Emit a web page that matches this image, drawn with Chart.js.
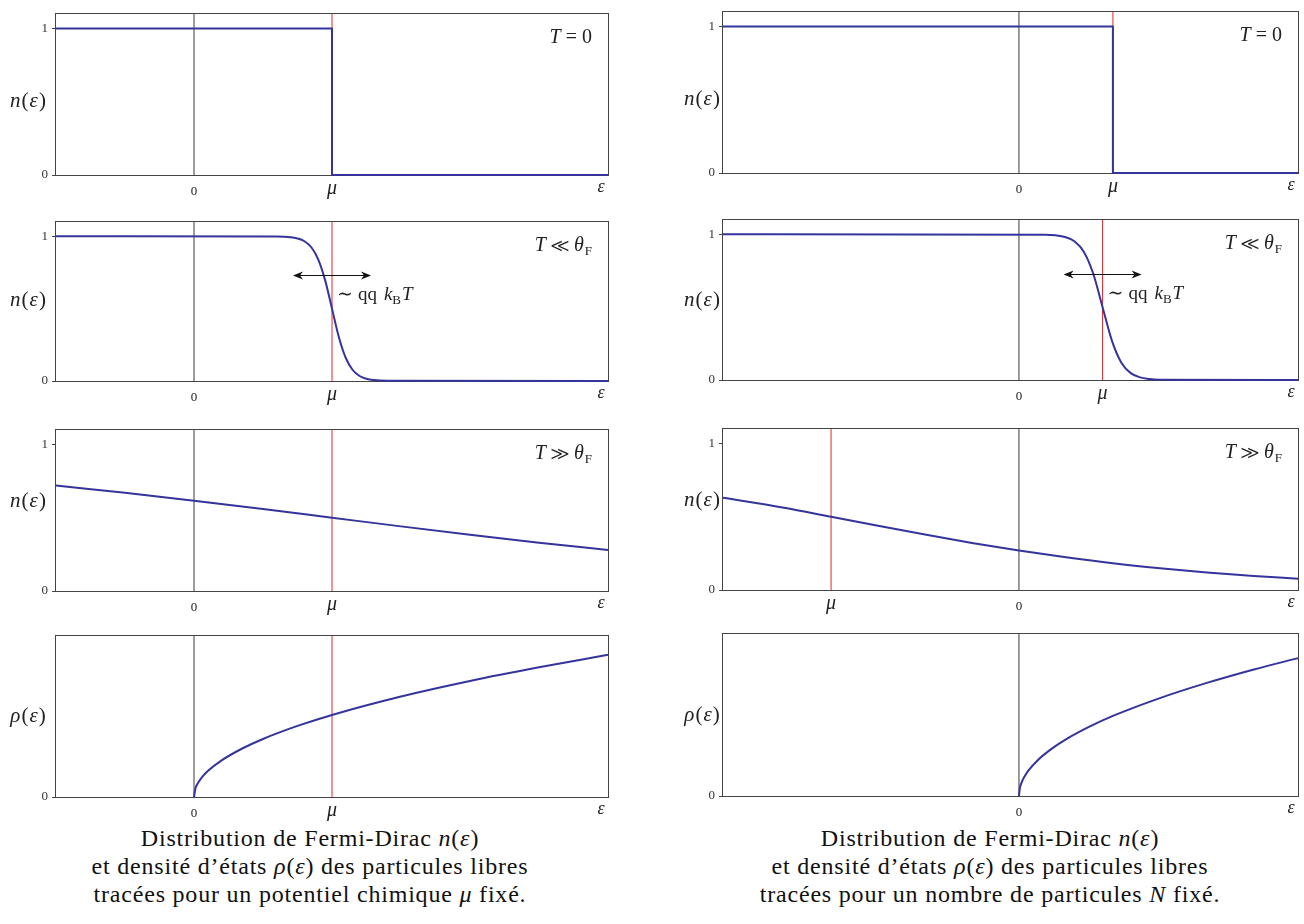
<!DOCTYPE html>
<html>
<head>
<meta charset="utf-8">
<script src="https://cdn.jsdelivr.net/npm/chart.js@4.4.1/dist/chart.umd.min.js"></script>
<style>
  body { margin: 0; background: #fff; width: 1304px; height: 924px; position: relative; overflow: hidden;
         font-family: "Liberation Serif", "DejaVu Serif", "Noto Serif", "Times New Roman", Tinos, "Nimbus Roman", FreeSerif, serif; }
  canvas { position: absolute; }
  .cap { position: absolute; width: 600px; text-align: center; font-size: 24px; line-height: 28px;
         letter-spacing: 0.8px; color: #111; }
</style>
</head>
<body>
<div class="cap" style="left:10px; top:824px;">Distribution de Fermi-Dirac <i>n</i>(<i>ε</i>)<br>et densité d’états <i>ρ</i>(<i>ε</i>) des particules libres<br>tracées pour un potentiel chimique <i>μ</i> fixé.</div>
<div class="cap" style="left:690px; top:824px;">Distribution de Fermi-Dirac <i>n</i>(<i>ε</i>)<br>et densité d’états <i>ρ</i>(<i>ε</i>) des particules libres<br>tracées pour un nombre de particules <i>N</i> fixé.</div>
<script>
// energy axis, in units of the T = 0 chemical potential
const xRangeMu = [-1, 3];        // left column (mu fixed)
const xRangeN = [-3.15, 2.97];   // right column (N fixed)
const muFixed = 1;
const muN = [1, 0.89, -2];       // right column: T=0, T<<θF, T>>θF
const yTicksN = [0, 1];
const yTicksRho = [0];

// T = 0 : step
const stepEpsMu = [-1, 1, 1, 3];
const stepEpsN = [-3.15, 1, 1, 2.97];
const stepN = [1, 1, 0, 0];

// T << θF
const coldEpsMu = [-1, 0.6, 0.7, 0.75, 0.8, 0.85, 0.9, 0.95, 1, 1.05, 1.1, 1.15, 1.2, 1.25, 1.3, 1.4, 3];
const coldNMu = [1, 0.9987, 0.9933, 0.9847, 0.9656, 0.9241, 0.8411, 0.6971, 0.5, 0.3029, 0.1589, 0.0759, 0.0344, 0.0153, 0.0067, 0.0013, 0];
const coldEpsN = [-3.15, 0.29, 0.39, 0.49, 0.59, 0.69, 0.79, 0.89, 0.99, 1.09, 1.19, 1.29, 1.39, 1.49, 2.97];
const coldNN = [1, 0.9975, 0.9933, 0.982, 0.9526, 0.8808, 0.7311, 0.5, 0.2689, 0.1192, 0.0474, 0.018, 0.0067, 0.0025, 0];

// T >> θF
const hotEpsMu = [-1, -0.5, 0, 0.5, 1, 1.5, 2, 2.5, 3];
const hotNMu = [0.72, 0.67, 0.616, 0.559, 0.5, 0.441, 0.384, 0.33, 0.28];
const hotEpsN = [-3.15, -2.5, -2, -1.5, -1, -0.5, 0, 0.5, 1, 1.5, 2, 2.5, 2.97];
const hotNN = [0.63, 0.562, 0.5, 0.438, 0.378, 0.321, 0.269, 0.223, 0.182, 0.148, 0.119, 0.095, 0.077];

// density of states
const dosEpsMu = [0, 0.01, 0.03, 0.06, 0.1, 0.2, 0.35, 0.5, 0.75, 1, 1.5, 2, 2.5, 3];
const dosMu = [0, 0.056, 0.097, 0.137, 0.177, 0.25, 0.331, 0.396, 0.485, 0.56, 0.686, 0.792, 0.885, 0.97];
const dosEpsN = [0, 0.01, 0.03, 0.06, 0.1, 0.2, 0.35, 0.5, 0.75, 1, 1.5, 2, 2.5, 2.97];
const dosN = [0, 0.054, 0.094, 0.133, 0.172, 0.243, 0.321, 0.384, 0.47, 0.543, 0.664, 0.767, 0.858, 0.935];

const SERIF = '"Liberation Serif", "DejaVu Serif", "Noto Serif", "Times New Roman", Tinos, "Nimbus Roman", FreeSerif, serif';
const BLUE = '#34349c';
const RED = '#e2282c';
const AXIS = '#444';

const tags = {
  zero: [['T', 'i', 20, 0, 5], ['=', 'n', 20, 0, 5], ['0', 'n', 20]],
  cold: [['T', 'i', 20, 0, 5], ['≪', 'n', 20, 0, 5], ['θ', 'i', 20, 0, 1], ['F', 'n', 13, 4]],
  hot: [['T', 'i', 20, 0, 5], ['≫', 'n', 20, 0, 5], ['θ', 'i', 20, 0, 1], ['F', 'n', 13, 4]]
};

const panels = [
  { box: [56, 8, 608, 175], xr: xRangeMu, eps: stepEpsMu, n: stepN, mu: muFixed, smooth: false, lab: 'n', labY: 0.54, labDx: 28, yTicks: yTicksN, tag: 'zero' },
  { box: [56, 216, 608, 381], xr: xRangeMu, eps: coldEpsMu, n: coldNMu, mu: muFixed, smooth: true, lab: 'n', labY: 0.49, labDx: 28, yTicks: yTicksN, tag: 'cold' },
  { box: [56, 424, 608, 591], xr: xRangeMu, eps: hotEpsMu, n: hotNMu, mu: muFixed, smooth: true, lab: 'n', labY: 0.44, labDx: 28, yTicks: yTicksN, tag: 'hot' },
  { box: [56, 630, 608, 797], xr: xRangeMu, eps: dosEpsMu, n: dosMu, mu: muFixed, smooth: true, lab: 'ρ', labY: 0.5, labDx: 28, yTicks: yTicksRho, tag: null },
  { box: [723, 6, 1298, 173], xr: xRangeN, eps: stepEpsN, n: stepN, mu: muN[0], smooth: false, lab: 'n', labY: 0.54, labDx: 21, yTicks: yTicksN, tag: 'zero' },
  { box: [723, 214, 1298, 380], xr: xRangeN, eps: coldEpsN, n: coldNN, mu: muN[1], smooth: true, lab: 'n', labY: 0.5, labDx: 21, yTicks: yTicksN, tag: 'cold' },
  { box: [723, 423, 1298, 590], xr: xRangeN, eps: hotEpsN, n: hotNN, mu: muN[2], smooth: true, lab: 'n', labY: 0.44, labDx: 21, yTicks: yTicksN, tag: 'hot' },
  { box: [723, 628, 1298, 796], xr: xRangeN, eps: dosEpsN, n: dosN, mu: null, smooth: true, lab: 'ρ', labY: 0.5, labDx: 21, yTicks: yTicksRho, tag: null }
];

const xy = (xs, ys) => xs.map((x, i) => ({ x: x, y: ys[i] }));
const fontOf = p => (p[1] === 'i' ? 'italic ' : '') + p[2] + 'px ' + SERIF;

function drawRuns(ctx, parts, x, y, align) {
  let w = 0;
  parts.forEach(p => { ctx.font = fontOf(p); w += ctx.measureText(p[0]).width + (p[4] || 0); });
  let cx = align === 'right' ? x - w : (align === 'center' ? x - w / 2 : x);
  parts.forEach(p => {
    ctx.font = fontOf(p);
    ctx.fillText(p[0], cx, y + (p[3] || 0));
    cx += ctx.measureText(p[0]).width + (p[4] || 0);
  });
}

function arrowHead(ctx, x, y, dir) {
  ctx.beginPath();
  ctx.moveTo(x, y);
  ctx.lineTo(x - dir * 10, y - 4);
  ctx.lineTo(x - dir * 7, y);
  ctx.lineTo(x - dir * 10, y + 4);
  ctx.closePath();
  ctx.fill();
}

const PAD = { left: 0, top: 6, right: 14, bottom: 28 };
const YW = 56;

panels.forEach(p => {
  const [x0, y0, x1, y1] = p.box;
  const cv = document.createElement('canvas');
  const w = (x1 - x0) + YW + PAD.right;
  const h = (y1 - y0) + PAD.top + PAD.bottom;
  cv.width = w; cv.height = h;
  cv.style.left = (x0 - YW) + 'px';
  cv.style.top = (y0 - PAD.top) + 'px';
  cv.style.width = w + 'px';
  cv.style.height = h + 'px';
  document.body.appendChild(cv);

  const datasets = [{
    data: xy(p.eps, p.n), borderColor: BLUE, borderWidth: 2, pointRadius: 0,
    cubicInterpolationMode: p.smooth ? 'monotone' : 'default', tension: 0, clip: 4
  }];
  if (p.mu !== null) {
    datasets.push({ data: [{ x: p.mu, y: 0 }, { x: p.mu, y: 1.1 }], borderColor: RED, borderWidth: 1, pointRadius: 0 });
  }
  datasets.push({ data: [{ x: 0, y: 0 }, { x: 0, y: 1.1 }], borderColor: '#3a3a3a', borderWidth: 1, pointRadius: 0 });

  const decor = {
    id: 'decor',
    beforeDatasetsDraw(chart) {
      const a = chart.chartArea, ctx = chart.ctx;
      ctx.save();
      ctx.strokeStyle = AXIS;
      ctx.lineWidth = 1;
      ctx.strokeRect(Math.round(a.left) - 0.5, Math.round(a.top) - 0.5, Math.round(a.right - a.left) + 1, Math.round(a.bottom - a.top) + 1);
      ctx.restore();
    },
    afterDraw(chart) {
      const a = chart.chartArea, ctx = chart.ctx, xs = chart.scales.x, ys = chart.scales.y;
      ctx.save();
      ctx.fillStyle = '#222';
      ctx.textBaseline = 'alphabetic';
      // x labels
      drawRuns(ctx, [['0', 'n', 13]], xs.getPixelForValue(0), a.bottom + 20, 'center');
      if (p.mu !== null) drawRuns(ctx, [['μ', 'i', 20]], xs.getPixelForValue(p.mu), a.bottom + 19, 'center');
      drawRuns(ctx, [['ε', 'i', 18]], a.right - 7, a.bottom + 17, 'center');
      // y label
      const ly = a.top + p.labY * (a.bottom - a.top) + 6;
      drawRuns(ctx, [[p.lab, 'i', 21, 0, 1], ['(', 'n', 21, 0, 1], ['ε', 'i', 21, 0, 1], [')', 'n', 21]], a.left - p.labDx, ly, 'center');
      // regime tag
      if (p.tag) drawRuns(ctx, tags[p.tag], a.right - 16, a.top + 29, 'right');
      // thermal width arrow
      if (p.tag === 'cold') {
        const cx = xs.getPixelForValue(p.mu), cy = Math.round(ys.getPixelForValue(0.73)) + 0.5;
        ctx.strokeStyle = '#111';
        ctx.fillStyle = '#111';
        ctx.lineWidth = 1;
        ctx.beginPath();
        ctx.moveTo(cx - 36, cy);
        ctx.lineTo(cx + 36, cy);
        ctx.stroke();
        arrowHead(ctx, cx - 39, cy, -1);
        arrowHead(ctx, cx + 39, cy, 1);
        ctx.fillStyle = '#222';
        drawRuns(ctx, [['∼', 'n', 19, 0, 5], ['qq', 'n', 19, 0, 7], ['k', 'i', 19, 0, 0], ['B', 'n', 13, 4, 1], ['T', 'i', 19]], cx + 5, cy + 24, 'left');
      }
      ctx.restore();
    }
  };

  new Chart(cv.getContext('2d'), {
    type: 'line',
    data: { datasets: datasets },
    options: {
      responsive: false,
      animation: false,
      layout: { padding: PAD },
      plugins: { legend: { display: false }, tooltip: { enabled: false } },
      scales: {
        x: { type: 'linear', min: p.xr[0], max: p.xr[1], display: false },
        y: {
          type: 'linear', min: 0, max: 1.1,
          afterBuildTicks: s => { s.ticks = p.yTicks.map(v => ({ value: v })); },
          afterFit: s => { s.width = YW; },
          ticks: { font: { family: SERIF, size: 13 }, color: '#333', padding: 4, callback: v => String(v) },
          grid: { drawOnChartArea: false, tickLength: 4, color: AXIS },
          border: { display: false }
        }
      }
    },
    plugins: [decor]
  });
});
</script>
</body>
</html>
